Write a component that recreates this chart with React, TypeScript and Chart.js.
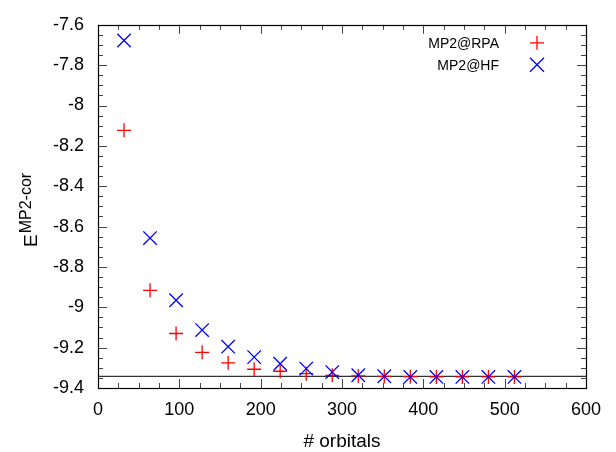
import React, { useEffect, useRef } from 'react';
import { Chart, registerables } from 'chart.js';

Chart.register(...registerables);

// ---- data ----
const orbitals = [32, 64, 96, 128, 160, 192, 224, 256, 288, 320, 352, 384, 416, 448, 480, 512];
const mp2AtRpa = [-8.123, -8.916, -9.13, -9.223, -9.275, -9.307, -9.317, -9.329, -9.337, -9.34, -9.342, -9.344, -9.345, -9.345, -9.345, -9.345];
const mp2AtHf = [-7.678, -8.657, -8.965, -9.113, -9.195, -9.247, -9.28, -9.304, -9.321, -9.337, -9.342, -9.345, -9.345, -9.345, -9.345, -9.345];
const referenceEnergy = [-9.342, -9.342];
const referenceX = [0, 600];
const seriesLabels = ['MP2@RPA', 'MP2@HF'];
const xRange = [0, 600];
const yRange = [-9.4, -7.6];
const xMajorStep = 100;
const xMinorStep = 25;
const yMajorStep = 0.2;
const yMinorStep = 0.05;
const xTitle = '# orbitals';
const yTitleMain = 'E';
const yTitleSup = 'MP2-cor';

const FONT = "'Liberation Sans', Arial, Helvetica, sans-serif";

const frameTicks = {
  id: 'frameTicks',
  beforeDatasetsDraw(chart: any) {
    const { ctx, chartArea: a, scales } = chart;
    const x = scales.x;
    const y = scales.y;
    ctx.save();
    ctx.strokeStyle = '#444';
    ctx.lineWidth = 1;
    ctx.beginPath();
    const nx = Math.round((x.max - x.min) / xMinorStep);
    for (let i = 0; i <= nx; i++) {
      const v = x.min + i * xMinorStep;
      const px = Math.round(x.getPixelForValue(v)) + 0.5;
      const major = Math.abs(v / xMajorStep - Math.round(v / xMajorStep)) < 1e-6;
      const len = major ? 9 : 5;
      ctx.moveTo(px, a.bottom);
      ctx.lineTo(px, a.bottom - len);
      ctx.moveTo(px, a.top);
      ctx.lineTo(px, a.top + len);
    }
    const ny = Math.round((y.max - y.min) / yMinorStep);
    for (let i = 0; i <= ny; i++) {
      const v = y.min + i * yMinorStep;
      const py = Math.round(y.getPixelForValue(v)) + 0.5;
      const r = (v - y.min) / yMajorStep;
      const major = Math.abs(r - Math.round(r)) < 1e-6;
      const len = major ? 9 : 5;
      ctx.moveTo(a.left, py);
      ctx.lineTo(a.left + len, py);
      ctx.moveTo(a.right, py);
      ctx.lineTo(a.right - len, py);
    }
    ctx.stroke();
    ctx.strokeStyle = '#000';
    ctx.lineWidth = 1.2;
    ctx.strokeRect(Math.round(a.left) + 0.5, Math.round(a.top) + 0.5, Math.round(a.right - a.left), Math.round(a.bottom - a.top));
    ctx.restore();
  },
};

const customLegend = {
  id: 'customLegend',
  afterDatasetsDraw(chart: any) {
    const { ctx, chartArea: a } = chart;
    ctx.save();
    ctx.font = `14px ${FONT}`;
    ctx.fillStyle = '#000';
    ctx.textAlign = 'right';
    ctx.textBaseline = 'middle';
    const items = chart.data.datasets.filter((d: any) => d.showInLegend);
    items.forEach((d: any, i: number) => {
      const cy = a.top + 18 + i * 22;
      ctx.fillText(d.label, a.right - 87, cy + 1);
      const cx = a.right - 49;
      ctx.strokeStyle = d.borderColor;
      ctx.lineWidth = 1.3;
      ctx.beginPath();
      if (d.pointStyle === 'cross') {
        ctx.moveTo(cx - 7, cy); ctx.lineTo(cx + 7, cy);
        ctx.moveTo(cx, cy - 7); ctx.lineTo(cx, cy + 7);
      } else {
        ctx.moveTo(cx - 7, cy - 7); ctx.lineTo(cx + 7, cy + 7);
        ctx.moveTo(cx - 7, cy + 7); ctx.lineTo(cx + 7, cy - 7);
      }
      ctx.stroke();
    });
    ctx.restore();
  },
};

const yTitlePlugin = {
  id: 'yTitlePlugin',
  afterDraw(chart: any) {
    const { ctx, chartArea: a } = chart;
    ctx.save();
    const mainFont = `19px ${FONT}`;
    const supFont = `16px ${FONT}`;
    ctx.font = mainFont;
    const wE = ctx.measureText(yTitleMain).width;
    ctx.font = supFont;
    const wS = ctx.measureText(yTitleSup).width;
    const total = wE + wS;
    const cy = (a.top + a.bottom) / 2 + 4;
    ctx.translate(37, cy + total / 2);
    ctx.rotate(-Math.PI / 2);
    ctx.fillStyle = '#000';
    ctx.textAlign = 'left';
    ctx.textBaseline = 'alphabetic';
    ctx.font = mainFont;
    ctx.fillText(yTitleMain, 0, 0);
    ctx.font = supFont;
    ctx.fillText(yTitleSup, wE + 1, -6);
    ctx.restore();
  },
};

export default function App() {
  const ref = useRef<HTMLCanvasElement>(null);
  useEffect(() => {
    if (!ref.current) return;
    const chart = new Chart(ref.current, {
      type: 'scatter',
      data: {
        datasets: [
          {
            label: seriesLabels[0],
            showInLegend: true,
            data: orbitals.map((o, i) => ({ x: o, y: mp2AtRpa[i] })),
            pointStyle: 'cross',
            pointRadius: 7,
            pointHoverRadius: 7,
            borderColor: '#ff0000',
            backgroundColor: '#ff0000',
            borderWidth: 1.3,
            order: 1,
          } as any,
          {
            label: seriesLabels[1],
            showInLegend: true,
            data: orbitals.map((o, i) => ({ x: o, y: mp2AtHf[i] })),
            pointStyle: 'crossRot',
            pointRadius: 9.5,
            pointHoverRadius: 9.5,
            borderColor: '#0000ff',
            backgroundColor: '#0000ff',
            borderWidth: 1.3,
            order: 0,
          } as any,
          {
            type: 'line',
            label: 'reference',
            showInLegend: false,
            data: referenceX.map((xv, i) => ({ x: xv, y: referenceEnergy[i] })),
            borderColor: '#000',
            borderWidth: 1,
            pointRadius: 0,
            fill: false,
            order: 2,
          } as any,
        ],
      },
      options: {
        animation: false,
        responsive: true,
        maintainAspectRatio: false,
        layout: { padding: { top: 20, right: 30, left: 0, bottom: 0 } },
        plugins: {
          legend: { display: false },
          tooltip: { enabled: false },
        },
        scales: {
          x: {
            type: 'linear',
            min: xRange[0],
            max: xRange[1],
            grid: { display: false, drawTicks: false },
            border: { display: false },
            ticks: {
              stepSize: xMajorStep,
              color: '#000',
              font: { family: FONT, size: 18 },
              padding: 11,
              maxRotation: 0,
            },
            title: {
              display: true,
              text: xTitle,
              color: '#000',
              font: { family: FONT, size: 19, lineHeight: 1.1 },
              padding: { top: 0, bottom: 0 },
            },
            afterFit(scale: any) { scale.height = 64; },
          },
          y: {
            type: 'linear',
            min: yRange[0],
            max: yRange[1],
            grid: { display: false, drawTicks: false },
            border: { display: false },
            ticks: {
              stepSize: yMajorStep,
              color: '#000',
              font: { family: FONT, size: 18 },
              padding: 14,
              callback: (v: any) => String(Math.round(Number(v) * 10) / 10),
            },
            afterFit(scale: any) { scale.width = 98; },
          },
        },
      },
      plugins: [frameTicks, customLegend, yTitlePlugin],
    });
    return () => chart.destroy();
  }, []);
  return (
    <div style={{ position: 'fixed', left: 0, top: 0, width: 616, height: 452, background: '#fff' }}>
      <canvas ref={ref} />
    </div>
  );
}
